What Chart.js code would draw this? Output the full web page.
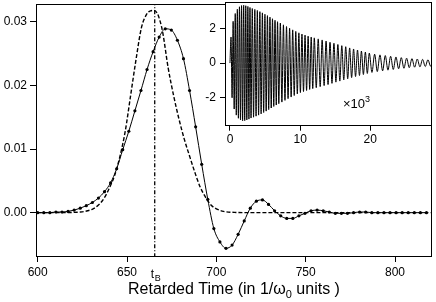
<!DOCTYPE html>
<html>
<head>
<meta charset="utf-8">
<script src="https://cdn.jsdelivr.net/npm/chart.js@4.4.1/dist/chart.umd.min.js"></script>
<style>
  body { margin: 0; background: #fff; }
  #wrap { position: relative; width: 436px; height: 302px; }
  #main { position: absolute; left: 0; top: 0; }
  #inset { position: absolute; left: 190px; top: 0; }
</style>
</head>
<body>
<div id="wrap">
  <canvas id="main" width="436" height="302"></canvas>
  <canvas id="inset" width="246" height="150"></canvas>
</div>
<script>
// Main panel: solid curve with markers (retarded field)
const solidT = [600.0, 603.4, 606.8, 610.2, 613.6, 617.0, 620.4, 623.8, 627.2, 630.6,
  634.0, 637.4, 640.8, 644.2, 647.6, 651.0, 654.4, 657.8, 661.2, 664.6,
  668.0, 671.4, 674.8, 678.2, 681.6, 685.0, 688.4, 691.8, 695.2, 698.6,
  702.0, 705.4, 708.8, 712.2, 715.6, 719.0, 722.4, 725.8, 729.2, 732.6,
  736.0, 739.4, 742.8, 746.2, 749.6, 753.0, 756.4, 759.8, 763.2, 766.6,
  770.0, 773.4, 776.8, 780.2, 783.6, 787.0, 790.4, 793.8, 797.2, 800.6,
  804.0, 807.4, 810.8, 814.2, 817.6];
const solidV = [0.0000, 0.0000, 0.0000, 0.0001, 0.0001, 0.0002, 0.0004, 0.0007, 0.0011, 0.0016,
  0.0023, 0.0033, 0.0047, 0.0069, 0.0099, 0.0128, 0.0160, 0.0192, 0.0225, 0.0253,
  0.0276, 0.0289, 0.0287, 0.0271, 0.0242, 0.0192, 0.0135, 0.0076, 0.0021, -0.0025,
  -0.0046, -0.0056, -0.0051, -0.0034, -0.0013, 0.0007, 0.0018, 0.0020, 0.0013, 0.0003,
  -0.0005, -0.0009, -0.0009, -0.0005, -0.0001, 0.0003, 0.0004, 0.0003, 0.0001, -0.0001,
  -0.0001, -0.0001, 0.0000, 0.0001, 0.0001, 0.0000, 0.0000, 0.0000, 0.0000, 0.0000,
  0.0000, 0.0000, 0.0000, 0.0000, 0.0000];

// Main panel: dashed pulse
const dashT = [600, 610, 618, 624, 628, 631, 634, 637, 640, 643, 646, 649, 652, 655, 658,
  661, 663, 665, 667, 668.5, 670, 673, 676, 679, 682, 685, 688, 691, 694, 697, 700,
  704, 710, 720, 820];
const dashV = [0, 0, 0.00003, 0.0001, 0.0003, 0.0006, 0.0012, 0.0022, 0.0038, 0.0058, 0.0088,
  0.0128, 0.0184, 0.0240, 0.0290, 0.0312, 0.0317, 0.0318, 0.0313, 0.0301, 0.0283, 0.0228,
  0.0185, 0.0148, 0.0116, 0.0089, 0.0063, 0.0040, 0.0024, 0.0012, 0.0006, 0.0002, 0.00005,
  0, 0];

const tB = 665.5;
const xTicks = [600, 650, 700, 750, 800];
const yTicks = [0.00, 0.01, 0.02, 0.03];

// Inset: extremes of the oscillation (x10^3 units)
const insetT = [0,
  0.15, 0.30, 0.45, 0.60, 0.75, 0.90, 1.05, 1.20, 1.35, 1.50,
  1.65, 1.80, 1.95, 2.10, 2.25, 2.40, 2.55, 2.70, 2.85, 3.00,
  3.18, 3.36, 3.54, 3.72, 3.90, 4.08, 4.26, 4.44, 4.62, 4.80, 4.98,
  5.16, 5.34, 5.52, 5.70, 5.88, 6.06, 6.24, 6.42, 6.60, 6.78, 6.96,
  7.18, 7.40, 7.62, 7.84, 8.06, 8.28, 8.50, 8.72, 8.94, 9.16, 9.38, 9.60,
  9.82, 10.04, 10.26, 10.48, 10.70, 10.92, 11.14, 11.36, 11.58, 11.80, 12.02,
  12.30, 12.58, 12.86, 13.14, 13.42, 13.70, 13.98, 14.26, 14.54, 14.82,
  15.10, 15.38, 15.66, 15.94, 16.22, 16.50, 16.78, 17.06, 17.34, 17.62,
  17.90, 18.18, 18.46, 18.74, 19.02, 19.30, 19.58, 19.86,
  20.24, 20.62, 21.00, 21.38, 21.76, 22.14, 22.52, 22.90, 23.28, 23.66,
  24.04, 24.42, 24.80, 25.18, 25.56, 25.94, 26.32, 26.70, 27.08, 27.46,
  27.84, 28.22, 28.60, 28.98];
const insetV = [0,
  1.5, -2.0, 2.4, -2.65, 2.85, -3.0, 3.1, -3.18, 3.24, -3.28,
  3.31, -3.33, 3.33, -3.32, 3.3, -3.28, 3.26, -3.23, 3.2, -3.17,
  3.14, -3.12, 3.09, -3.06, 3.03, -3.0, 2.96, -2.93, 2.89, -2.85, 2.81,
  -2.77, 2.73, -2.68, 2.64, -2.59, 2.55, -2.5, 2.46, -2.42, 2.38, -2.34,
  2.3, -2.25, 2.2, -2.15, 2.1, -2.05, 2.0, -1.96, 1.91, -1.87, 1.82, -1.78,
  1.74, -1.7, 1.67, -1.64, 1.61, -1.58, 1.55, -1.52, 1.5, -1.47, 1.45,
  -1.42, 1.39, -1.36, 1.33, -1.3, 1.27, -1.24, 1.2, -1.17, 1.14,
  -1.1, 1.07, -1.04, 1.0, -0.97, 0.94, -0.91, 0.87, -0.84, 0.81,
  -0.78, 0.75, -0.72, 0.69, -0.66, 0.63, -0.6, 0.57,
  -0.54, 0.51, -0.49, 0.47, -0.45, 0.43, -0.41, 0.39, -0.37, 0.35,
  -0.33, 0.31, -0.3, 0.28, -0.27, 0.25, -0.24, 0.23, -0.22, 0.21,
  -0.2, 0.19, -0.18, 0.17];
const insetXTicks = [0, 10, 20];
const insetYTicks = [-2, 0, 2];

const FONT = "'Liberation Sans', Arial, Helvetica, sans-serif";

function toPoints(xs, ys) {
  return xs.map((x, i) => ({ x: x, y: ys[i] }));
}

function fixedTicks(values) {
  return scale => { scale.ticks = values.map(v => ({ value: v })); };
}

// fixed axis size, and no extra room for the end labels
function fitTo(prop, size) {
  return s => {
    s[prop] = size;
    s.paddingTop = 0; s.paddingBottom = 0;
    s.paddingLeft = 0; s.paddingRight = 0;
  };
}

// draws the box round the plot area
const framePlugin = {
  id: 'frame',
  beforeDatasetsDraw(chart, args, opts) {
    if (!opts.fill) return;
    const a = chart.chartArea;
    const ctx = chart.ctx;
    ctx.save();
    ctx.fillStyle = '#fff';
    ctx.fillRect(a.left, a.top, a.right - a.left, a.bottom - a.top);
    ctx.restore();
  },
  afterDraw(chart) {
    const a = chart.chartArea;
    const ctx = chart.ctx;
    ctx.save();
    ctx.strokeStyle = '#000';
    ctx.lineWidth = 1;
    ctx.strokeRect(Math.round(a.left) + 0.5, Math.round(a.top) + 0.5,
      Math.round(a.right - a.left) - 1, Math.round(a.bottom - a.top) - 1);
    ctx.restore();
  }
};

// t_B label and axis title with subscripts
const mainLabels = {
  id: 'mainLabels',
  afterDraw(chart) {
    const ctx = chart.ctx;
    const xs = chart.scales.x;
    ctx.save();
    ctx.fillStyle = '#000';
    ctx.textBaseline = 'alphabetic';
    // t_B
    const px = xs.getPixelForValue(tB);
    ctx.font = '12px ' + FONT;
    ctx.fillText('t', px - 4, 278);
    ctx.font = '9px ' + FONT;
    ctx.fillText('B', px, 281);
    // axis title
    const part1 = 'Retarded Time (in 1/\u03C9';
    const sub = '0';
    const part2 = ' units )';
    ctx.font = '16px ' + FONT;
    const w1 = ctx.measureText(part1).width;
    const w2 = ctx.measureText(part2).width;
    ctx.font = '11px ' + FONT;
    const ws = ctx.measureText(sub).width;
    const total = w1 + ws + w2;
    let x0 = (chart.chartArea.left + chart.chartArea.right) / 2 - total / 2;
    ctx.font = '16px ' + FONT;
    ctx.fillText(part1, x0, 294);
    ctx.font = '11px ' + FONT;
    ctx.fillText(sub, x0 + w1, 298);
    ctx.font = '16px ' + FONT;
    ctx.fillText(part2, x0 + w1 + ws, 294);
    ctx.restore();
  }
};

const insetLabels = {
  id: 'insetLabels',
  afterDraw(chart) {
    const ctx = chart.ctx;
    ctx.save();
    ctx.fillStyle = '#000';
    ctx.font = '13px ' + FONT;
    ctx.fillText('\u00D710', 153, 108);
    const w = ctx.measureText('\u00D710').width;
    ctx.font = '9px ' + FONT;
    ctx.fillText('3', 153 + w, 102);
    ctx.restore();
  }
};

const axisStyle = {
  grid: { drawOnChartArea: false, drawTicks: true, tickLength: 5, color: '#000', lineWidth: 1 },
  border: { display: false },
  ticks: { color: '#000', font: { family: FONT, size: 12 } }
};

new Chart(document.getElementById('main'), {
  type: 'line',
  data: {
    datasets: [
      {
        data: toPoints(dashT, dashV),
        borderColor: '#000',
        borderWidth: 1.4,
        borderDash: [4, 2],
        pointRadius: 0,
        cubicInterpolationMode: 'monotone',
        fill: false
      },
      {
        data: toPoints(solidT, solidV),
        borderColor: '#000',
        borderWidth: 1,
        pointRadius: 1.6,
        pointBackgroundColor: '#000',
        pointBorderWidth: 0,
        cubicInterpolationMode: 'monotone',
        fill: false
      },
      {
        data: [{ x: tB, y: -0.0070 }, { x: tB, y: 0.0328 }],
        borderColor: '#000',
        borderWidth: 1.3,
        borderDash: [4, 2, 1, 2],
        pointRadius: 0,
        fill: false
      }
    ]
  },
  options: {
    responsive: false,
    animation: false,
    devicePixelRatio: 1,
    layout: { padding: { left: 0, top: 2, right: 4, bottom: 0 } },
    plugins: { legend: { display: false }, tooltip: { enabled: false }, frame: { fill: false } },
    scales: {
      x: {
        type: 'linear', min: 599.05, max: 820.7,
        ...axisStyle,
        ticks: { ...axisStyle.ticks, padding: 3, maxRotation: 0 },
        afterBuildTicks: fixedTicks(xTicks),
        afterFit: fitTo('height', 45)
      },
      y: {
        type: 'linear', min: -0.00697, max: 0.0328,
        ...axisStyle,
        grid: { ...axisStyle.grid, tickLength: 6 },
        ticks: { ...axisStyle.ticks, padding: 3, callback: v => v.toFixed(2) },
        afterBuildTicks: fixedTicks(yTicks),
        afterFit: fitTo('width', 36)
      }
    }
  },
  plugins: [framePlugin, mainLabels]
});

new Chart(document.getElementById('inset'), {
  type: 'line',
  data: {
    datasets: [{
      data: toPoints(insetT, insetV),
      borderColor: '#000',
      borderWidth: 1,
      pointRadius: 0,
      cubicInterpolationMode: 'monotone',
      fill: false
    }]
  },
  options: {
    responsive: false,
    animation: false,
    devicePixelRatio: 1,
    layout: { padding: { left: 0, top: 2, right: 4, bottom: 0 } },
    plugins: { legend: { display: false }, tooltip: { enabled: false }, frame: { fill: true } },
    scales: {
      x: {
        type: 'linear', min: -0.71, max: 28.8,
        ...axisStyle,
        ticks: { ...axisStyle.ticks, padding: 2, maxRotation: 0 },
        afterBuildTicks: fixedTicks(insetXTicks),
        afterFit: fitTo('height', 24.3)
      },
      y: {
        type: 'linear', min: -3.61, max: 3.516,
        ...axisStyle,
        ticks: { ...axisStyle.ticks, padding: 4 },
        afterBuildTicks: fixedTicks(insetYTicks),
        afterFit: fitTo('width', 35)
      }
    }
  },
  plugins: [framePlugin, insetLabels]
});
</script>
</body>
</html>
